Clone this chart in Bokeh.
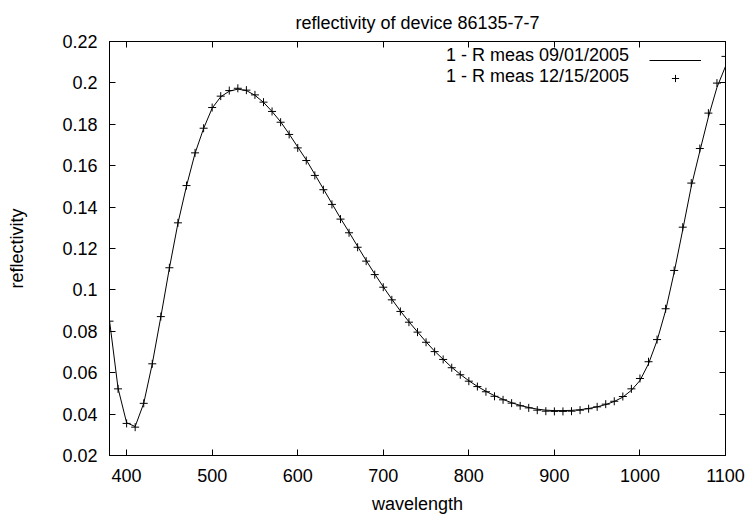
from bokeh.plotting import figure
from bokeh.models import Range1d, FixedTicker, LinearAxis, Legend, LegendItem
from bokeh.embed import file_html
from bokeh.resources import INLINE

title_text = "reflectivity of device 86135-7-7"
x_label = "wavelength"
y_label = "reflectivity"
series_labels = ["1 - R meas 09/01/2005", "1 - R meas 12/15/2005"]

wavelength = [380, 390, 400, 410, 420, 430, 440, 450, 460, 470,
              480, 490, 500, 510, 520, 530, 540, 550, 560, 570,
              580, 590, 600, 610, 620, 630, 640, 650, 660, 670,
              680, 690, 700, 710, 720, 730, 740, 750, 760, 770,
              780, 790, 800, 810, 820, 830, 840, 850, 860, 870,
              880, 890, 900, 910, 920, 930, 940, 950, 960, 970,
              980, 990, 1000, 1010, 1020, 1030, 1040, 1050, 1060, 1070,
              1080, 1090, 1100]

# 1 - R meas 12/15/2005 (points)
meas_1215 = [0.0849, 0.0522, 0.0355, 0.0337, 0.0452, 0.0643, 0.0871, 0.1107, 0.1324, 0.1504,
             0.1662, 0.1781, 0.1881, 0.1936, 0.1963, 0.1974, 0.1965, 0.1942, 0.1907, 0.1862,
             0.1810, 0.1751, 0.1686, 0.1625, 0.1553, 0.1484, 0.1413, 0.1342, 0.1276, 0.1206,
             0.1139, 0.1074, 0.1013, 0.0952, 0.0896, 0.0844, 0.0796, 0.0747, 0.0702, 0.0664,
             0.0624, 0.0590, 0.0559, 0.0533, 0.0508, 0.0486, 0.0469, 0.0453, 0.0440, 0.0430,
             0.0419, 0.0414, 0.0413, 0.0413, 0.0414, 0.0419, 0.0426, 0.0435, 0.0448, 0.0462,
             0.0485, 0.0522, 0.0572, 0.0653, 0.0760, 0.0909, 0.1094, 0.1303, 0.1516, 0.1683,
             0.1854, 0.1999, 0.2128]

# 1 - R meas 09/01/2005 (line)
meas_0901 = [0.0852, 0.0525, 0.0358, 0.0340, 0.0452, 0.0643, 0.0870, 0.1105, 0.1322, 0.1502,
             0.1660, 0.1780, 0.1878, 0.1933, 0.1960, 0.1970, 0.1963, 0.1940, 0.1906, 0.1862,
             0.1812, 0.1753, 0.1690, 0.1628, 0.1558, 0.1488, 0.1417, 0.1346, 0.1279, 0.1210,
             0.1142, 0.1077, 0.1015, 0.0955, 0.0898, 0.0846, 0.0797, 0.0749, 0.0704, 0.0665,
             0.0626, 0.0592, 0.0561, 0.0534, 0.0510, 0.0489, 0.0471, 0.0455, 0.0442, 0.0432,
             0.0424, 0.0419, 0.0417, 0.0417, 0.0418, 0.0421, 0.0427, 0.0435, 0.0446, 0.0461,
             0.0482, 0.0515, 0.0562, 0.0643, 0.0755, 0.0900, 0.1085, 0.1290, 0.1500, 0.1670,
             0.1835, 0.1978, 0.2080]

x_ticks = [400, 500, 600, 700, 800, 900, 1000, 1100]
y_ticks = [0.02, 0.04, 0.06, 0.08, 0.1, 0.12, 0.14, 0.16, 0.18, 0.2, 0.22]
y_tick_labels = ["0.02", "0.04", "0.06", "0.08", "0.1", "0.12", "0.14", "0.16", "0.18", "0.2", "0.22"]

FONT = "Liberation Sans"
FS = "18px"

p = figure(width=750, height=517, output_backend="svg", toolbar_location=None,
           x_range=Range1d(380, 1100), y_range=Range1d(0.02, 0.22),
           title=title_text,
           min_border_left=109, min_border_right=25, min_border_top=41, min_border_bottom=62)
p.background_fill_color = "white"
p.border_fill_color = "white"
p.outline_line_color = "black"
p.outline_line_width = 1
p.grid.visible = False

p.title.align = "center"
p.title.text_font = FONT
p.title.text_font_size = FS
p.title.text_font_style = "normal"
p.title.text_color = "black"
p.title.standoff = 17

def style_axis(ax, ticks, labels=True):
    ax.ticker = FixedTicker(ticks=ticks)
    ax.major_tick_in = 6
    ax.major_tick_out = 0
    ax.minor_tick_in = 0
    ax.minor_tick_out = 0
    ax.axis_line_color = "black"
    ax.major_tick_line_color = "black"
    ax.major_label_text_font = FONT
    ax.major_label_text_font_size = FS if labels else "0px"
    ax.major_label_text_color = "black"
    ax.axis_label_text_font = FONT
    ax.axis_label_text_font_size = FS
    ax.axis_label_text_font_style = "normal"
    ax.axis_label_text_color = "black"

xa = p.xaxis[0]
style_axis(xa, x_ticks)
xa.axis_label = x_label
xa.major_label_standoff = 13
xa.axis_label_standoff = 9

ya = p.yaxis[0]
style_axis(ya, y_ticks)
ya.axis_label = y_label
ya.major_label_overrides = dict(zip(y_ticks, y_tick_labels))
ya.major_label_standoff = 12
ya.axis_label_standoff = 32

top = LinearAxis()
style_axis(top, x_ticks, labels=False)
top.major_label_overrides = {t: "" for t in x_ticks}
top.major_label_standoff = 0
p.add_layout(top, "above")

right = LinearAxis()
style_axis(right, y_ticks, labels=False)
right.major_label_overrides = {t: "" for t in y_ticks}
right.major_label_standoff = 0
p.add_layout(right, "right")

line_r = p.line(wavelength, meas_0901, line_color="black", line_width=1)
pts_r = p.scatter(wavelength, meas_1215, marker="cross", size=8, line_color="black", line_width=1)

common = dict(padding=0, spacing=0, border_line_color=None, background_fill_alpha=0,
              label_text_font=FONT, label_text_font_size=FS, label_text_color="black",
              glyph_height=18, label_height=18, label_standoff=0, margin=0)

leg_text = Legend(items=[LegendItem(label=series_labels[0], renderers=[line_r]),
                         LegendItem(label=series_labels[1], renderers=[pts_r])],
                  glyph_width=0, location=(337, 368), **common)
leg_glyph = Legend(items=[LegendItem(label=" ", renderers=[line_r]),
                          LegendItem(label=" ", renderers=[pts_r])],
                   glyph_width=52, location=(540, 368), **common)
p.add_layout(leg_text)
p.add_layout(leg_glyph)

open("out.html", "w").write(file_html(p, INLINE))
